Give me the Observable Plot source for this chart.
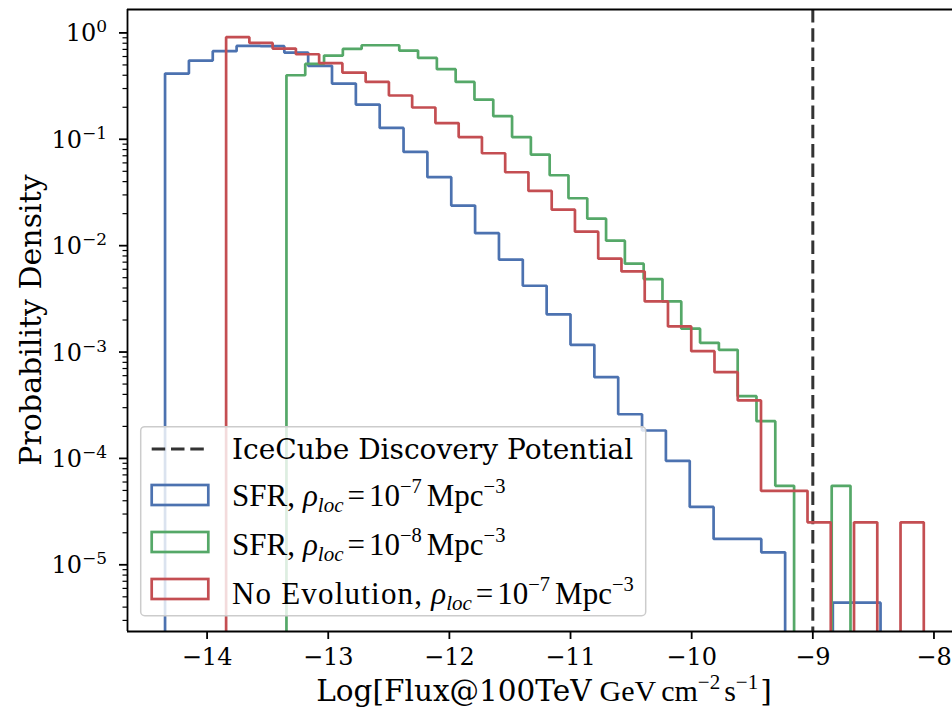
<!DOCTYPE html>
<html>
<head>
<meta charset="utf-8">
<script src="https://cdn.jsdelivr.net/npm/d3@7"></script>
<script src="https://cdn.jsdelivr.net/npm/@observablehq/plot@0.6"></script>
<style>
  html, body { margin: 0; padding: 0; background: #fff; }
  #chart svg { display: block; }
</style>
</head>
<body>
<div id="chart"></div>
<script>
// Log10 flux range and probability density of each population, 30 equal-width bins each
const sfr7Range = [-14.347, -8.441];
const sfr7Density = [0.415, 0.55, 0.673, 0.755, 0.75, 0.654, 0.49, 0.334, 0.212, 0.128,
  0.076, 0.044, 0.0238, 0.0131, 0.0074, 0.0042, 0.00226, 0.00117, 5.8e-4, 2.6e-4,
  1.83e-4, 9.5e-5, 3.5e-5, 1.75e-5, 1.75e-5, 1.31e-5, 0, 0, 4.4e-6, 4.4e-6];

const sfr8Range = [-13.345, -8.689];
const sfr8Density = [0.40, 0.511, 0.612, 0.707, 0.766, 0.766, 0.683, 0.582, 0.456, 0.346,
  0.236, 0.165, 0.105, 0.0718, 0.0459, 0.0279, 0.01795, 0.01114, 0.00677, 0.00485,
  0.00299, 0.00166, 0.00122, 0.00105, 3.85e-4, 2.24e-4, 5.52e-5, 0, 0, 5.52e-5];

const noEvoRange = [-13.843, -8.084];
const noEvoDensity = [0.911, 0.805, 0.713, 0.63, 0.519, 0.424, 0.346, 0.258, 0.199, 0.142,
  0.105, 0.0739, 0.049, 0.0327, 0.0218, 0.01355, 0.00755, 0.00573, 0.00299, 0.00174,
  1.02e-3, 6.47e-4, 3.51e-4, 4.96e-5, 4.96e-5, 2.51e-5, 0, 2.51e-5, 0, 2.51e-5];

// IceCube discovery potential, log10 flux
const discoveryPotential = -9;

// Axis ticks
const xTicks = [-14, -13, -12, -11, -10, -9, -8];
const yTickExponents = [0, -1, -2, -3, -4, -5];

const xDomain = [-14.657, -7.847];
const yDomain = [2.36e-6, 1.66];

const colors = { sfr7: "#4C72B0", sfr8: "#55A868", noEvo: "#C44E52" };
const SERIF = "DejaVu Serif";
const MATH = "Liberation Serif";

// Empty bins sit far below the axis so the step outline drops out of view
const BASE = 1e-9;
function outline(range, density) {
  const [lo, hi] = range, n = density.length, w = (hi - lo) / n;
  const pts = [{ x: lo, y: BASE }];
  density.forEach((d, i) => {
    const v = d > 0 ? d : BASE;
    pts.push({ x: lo + i * w, y: v }, { x: lo + (i + 1) * w, y: v });
  });
  pts.push({ x: hi, y: BASE });
  return pts;
}

const majorY = yTickExponents.map(e => Math.pow(10, e));
const minorY = [];
for (let e = -6; e <= 0; e++) {
  for (let m = 2; m <= 9; m++) {
    const v = m * Math.pow(10, e);
    if (v >= yDomain[0] && v <= yDomain[1]) minorY.push(v);
  }
}

const stepStyle = { x: "x", y: "y", strokeWidth: 2.7, strokeLinejoin: "miter", strokeLinecap: "butt", clip: true };

const chart = Plot.plot({
  width: 952,
  height: 715,
  marginLeft: 127,
  marginRight: 0,
  marginTop: 9,
  marginBottom: 84,
  style: { fontFamily: SERIF, fontSize: "24px", color: "#000", background: "#fff", overflow: "visible" },
  x: { domain: xDomain },
  y: { type: "log", domain: yDomain },
  marks: [
    Plot.ruleX([discoveryPotential], { stroke: "#333", strokeWidth: 3, strokeDasharray: "13.5,5.8" }),
    Plot.line(outline(sfr7Range, sfr7Density), { ...stepStyle, stroke: colors.sfr7 }),
    Plot.line(outline(sfr8Range, sfr8Density), { ...stepStyle, stroke: colors.sfr8 }),
    Plot.line(outline(noEvoRange, noEvoDensity), { ...stepStyle, stroke: colors.noEvo }),
    Plot.axisX(xTicks, { tickSize: 8, tickPadding: 8, strokeWidth: 1.8, fontSize: 24, label: null,
      tickFormat: d => "\u2212" + Math.abs(d) }),
    Plot.axisY(majorY, { tickSize: 8, strokeWidth: 1.8, label: null, tickFormat: () => "" }),
    Plot.axisY(minorY, { tickSize: 4.5, strokeWidth: 1.2, label: null, tickFormat: () => "" }),
    Plot.ruleX([xDomain[0]], { stroke: "#000", strokeWidth: 1.8 }),
    Plot.ruleY([yDomain[0], yDomain[1]], { stroke: "#000", strokeWidth: 1.8 })
  ]
});

document.getElementById("chart").appendChild(chart);

const svg = d3.select(chart);
const yScale = chart.scale("y");

// Mixed-font text with sub/superscripts built from tspans
function rich(text, parts) {
  let shift = 0;
  for (const p of parts) {
    const t = text.append("tspan").text(p.text);
    const target = p.shift || 0;
    const dy = target - shift;
    if (dy) t.attr("dy", -dy);
    shift = target;
    if (p.dx) t.attr("dx", p.dx);
    t.attr("font-family", p.font || SERIF);
    if (p.size) t.attr("font-size", p.size);
    if (p.italic) t.attr("font-style", "italic");
    if (p.spacing) t.attr("letter-spacing", p.spacing);
  }
  return text;
}

// Decade labels on the density axis
const yLabels = svg.append("g").attr("font-size", 24).attr("fill", "#000");
yTickExponents.forEach(e => {
  const t = yLabels.append("text")
    .attr("x", 107)
    .attr("y", yScale.apply(Math.pow(10, e)) + 9)
    .attr("text-anchor", "end");
  rich(t, [
    { text: "10" },
    { text: e === 0 ? "0" : "\u2212" + Math.abs(e), size: 17, shift: 9 }
  ]);
});

// Axis titles
svg.append("text")
  .attr("transform", "translate(41,320) rotate(-90)")
  .attr("text-anchor", "middle")
  .attr("font-family", SERIF)
  .attr("font-size", 30)
  .attr("fill", "#000")
  .text("Probability Density");

rich(svg.append("text")
  .attr("x", 544).attr("y", 701)
  .attr("text-anchor", "middle")
  .attr("font-size", 29.5)
  .attr("fill", "#000"), [
  { text: "Log[Flux@100TeV" },
  { text: "GeV", font: MATH, size: 30, dx: 8 },
  { text: "cm", font: MATH, size: 30, dx: 5 },
  { text: "\u22122", font: MATH, size: 21, shift: 12 },
  { text: "s", font: MATH, size: 30, dx: 4 },
  { text: "\u22121", font: MATH, size: 21, shift: 12 },
  { text: "]", dx: 2 }
]);

// Legend
const legend = svg.append("g").attr("text-anchor", "start");
legend.append("rect")
  .attr("x", 140.7).attr("y", 426.7)
  .attr("width", 505).attr("height", 189)
  .attr("rx", 4)
  .attr("fill", "#fff").attr("fill-opacity", 0.8)
  .attr("stroke", "#cccccc").attr("stroke-width", 1.5);

legend.append("line")
  .attr("x1", 151.7).attr("x2", 207.7)
  .attr("y1", 449).attr("y2", 449)
  .attr("stroke", "#333").attr("stroke-width", 3)
  .attr("stroke-dasharray", "13.5,5.8");

const density = (exp) => [
  { text: "\u03C1", font: MATH, size: 31, italic: true, dx: 8 },
  { text: "loc", font: MATH, size: 21, italic: true, shift: -6 },
  { text: "=", font: MATH, size: 31, dx: 4 },
  { text: "10", font: MATH, size: 31, dx: 4 },
  { text: "\u2212" + exp, font: MATH, size: 20.5, shift: 13 },
  { text: "Mpc", font: MATH, size: 31, dx: 5 },
  { text: "\u22123", font: MATH, size: 20.5, shift: 13 }
];

const entries = [
  { color: colors.sfr7, cy: 495, base: 506, parts: [{ text: "SFR,", font: MATH, size: 31 }, ...density(7)] },
  { color: colors.sfr8, cy: 542, base: 555, parts: [{ text: "SFR,", font: MATH, size: 31 }, ...density(8)] },
  { color: colors.noEvo, cy: 589, base: 604, parts: [{ text: "No Evolution,", font: MATH, size: 31, spacing: 1.2 }, ...density(7)] }
];

legend.append("text")
  .attr("x", 232).attr("y", 459)
  .attr("font-family", SERIF).attr("font-size", 28).attr("fill", "#000")
  .text("IceCube Discovery Potential");

entries.forEach(en => {
  legend.append("rect")
    .attr("x", 151.7).attr("y", en.cy - 10)
    .attr("width", 56.6).attr("height", 20)
    .attr("fill", "none").attr("stroke", en.color).attr("stroke-width", 2.7);
  rich(legend.append("text")
    .attr("x", 232).attr("y", en.base)
    .attr("fill", "#000"), en.parts);
});
</script>
</body>
</html>
